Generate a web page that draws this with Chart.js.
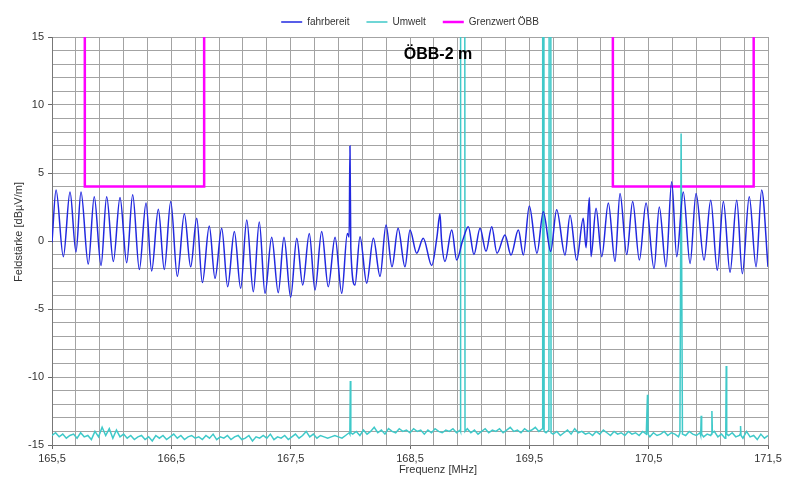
<!DOCTYPE html>
<html>
<head>
<meta charset="utf-8">
<script src="https://cdn.jsdelivr.net/npm/chart.js@4.4.1/dist/chart.umd.min.js"></script>
<style>
  html, body { margin: 0; padding: 0; background: #fff; }
  #chart { display: block; }
</style>
</head>
<body>
<canvas id="chart" width="788" height="483"></canvas>
<script>
// fahrbereit: Messpunkte (Frequenz in MHz, Pegel in dBµV/m)
const fahrFreq = [
  165.500,165.534,165.595,165.651,165.701,165.743,165.804,165.854,165.911,165.958,
  166.014,166.070,166.126,166.176,166.232,166.288,166.335,166.391,166.441,166.495,
  166.550,166.609,166.662,166.713,166.760,166.818,166.866,166.922,166.972,167.028,
  167.081,167.132,167.187,167.237,167.285,167.341,167.396,167.444,167.500,167.551,
  167.601,167.656,167.704,167.760,167.815,167.872,167.928,167.975,167.990,167.997,
  168.004,168.039,168.081,168.137,168.193,168.249,168.299,168.349,168.400,168.458,
  168.500,168.556,168.611,168.682,168.726,168.751,168.764,168.793,168.850,168.891,
  168.940,168.989,169.036,169.087,169.137,169.185,169.229,169.296,169.346,169.408,
  169.450,169.500,169.564,169.617,169.679,169.729,169.799,169.841,169.897,169.952,
  169.975,170.003,170.017,170.059,170.107,170.162,170.218,170.260,170.316,170.366,
  170.422,170.478,170.545,170.589,170.645,170.693,170.735,170.790,170.847,170.897,
  170.964,171.020,171.075,171.126,171.182,171.238,171.285,171.343,171.400,171.447,
  171.500
];
const fahrLevel = [
  -0.1,3.75,-1.15,3.6,-0.8,3.6,-1.7,3.25,-1.8,3.25,
  -1.5,3.2,-1.6,3.4,-2.1,2.8,-2.2,2.33,-2.1,2.9,
  -2.6,2.0,-1.9,1.67,-3.06,1.1,-2.75,0.93,-3.36,0.69,
  -3.48,1.54,-3.73,1.4,-3.85,0.27,-3.8,0.27,-4.14,0.2,
  -3.24,0.56,-3.6,0.69,-3.36,0.27,-3.85,0.56,0.3,6.98,
  -0.5,-3.24,0.32,-3.1,0.2,-2.6,1.18,-1.9,0.93,-1.9,
  0.81,-0.9,0.2,-1.8,0.3,2.0,0.1,-1.5,0.8,-1.4,
  0.0,1.05,-1.0,0.93,-0.76,1.05,-0.9,0.44,-1.03,0.8,
  -1.03,2.57,-0.9,2.15,-0.76,2.3,-1.03,1.9,-1.4,1.67,
  -0.5,3.2,-1.15,2.4,-1.15,2.8,-1.5,3.5,-1.0,2.9,
  -1.4,2.8,-2.03,2.5,-1.9,4.36,-1.15,3.6,-1.65,3.5,
  -1.4,3.0,-2.15,2.9,-2.3,3.0,-2.4,3.25,-1.9,3.75,
  -1.9
];

// Umwelt: Grundrauschen, Sweep ab 165,5 MHz in 0,03-MHz-Schritten
const umweltStart = 165.5;
const umweltStep = 0.03;
const umweltNoise = [
  -14.3,-14.1,-14.4,-14.2,-14.5,-14.3,-14.2,-14.5,-14.1,-14.4,
  -14.3,-14.6,-14.0,-14.4,-13.7,-14.3,-13.8,-14.5,-13.9,-14.4,
  -14.2,-14.5,-14.3,-14.6,-14.4,-14.3,-14.6,-14.4,-14.7,-14.3,
  -14.5,-14.3,-14.6,-14.4,-14.2,-14.5,-14.3,-14.6,-14.4,-14.3,
  -14.5,-14.4,-14.6,-14.3,-14.5,-14.2,-14.6,-14.4,-14.5,-14.3,
  -14.6,-14.4,-14.3,-14.6,-14.5,-14.3,-14.7,-14.4,-14.5,-14.3,
  -14.5,-14.2,-14.6,-14.4,-14.5,-14.3,-14.6,-14.4,-14.2,-14.5,
  -14.3,-14.0,-14.4,-14.2,-14.5,-14.3,-14.4,-14.5,-14.4,-14.3,
  -14.4,-14.5,-14.3,-14.1,-14.2,-14.0,-14.3,-13.9,-14.2,-14.0,
  -13.7,-14.1,-13.9,-14.2,-13.8,-14.0,-14.1,-13.8,-14.0,-13.9,
  -14.1,-13.8,-14.0,-13.9,-14.2,-13.9,-14.1,-13.8,-14.0,-14.1,
  -13.9,-14.0,-13.8,-14.1,-13.9,-14.0,-13.8,-14.1,-13.9,-14.2,
  -14.0,-13.8,-14.1,-13.9,-14.0,-13.8,-14.1,-13.9,-13.7,-14.0,
  -13.9,-14.1,-13.8,-14.0,-13.9,-13.7,-14.0,-13.9,-14.1,-13.9,
  -14.2,-14.0,-14.3,-14.1,-13.9,-14.2,-13.8,-14.1,-14.0,-14.2,
  -14.1,-14.3,-14.0,-14.2,-13.9,-14.1,-14.3,-14.0,-14.2,-14.1,
  -14.3,-14.0,-14.2,-14.1,-14.3,-14.0,-14.2,-14.4,-14.1,-14.3,
  -14.2,-14.0,-14.3,-14.1,-14.2,-14.4,-14.1,-14.3,-14.0,-14.2,
  -14.3,-14.1,-14.4,-14.2,-14.3,-14.0,-14.4,-14.2,-14.5,-14.3,
  -14.1,-14.4,-14.3,-14.5,-14.0,-14.4,-14.3,-14.6,-14.2,-14.5,
  -14.3
];
// Umwelt: einzelne Träger / Spitzen [MHz, dBµV/m]
const umweltSpikes = [
  [[167.996,-14.2],[168.000,-10.3],[168.004,-14.1]],
  [[168.923,-14.0],[168.925,20],[168.959,20],[168.961,-14.0]],
  [[169.610,-13.8],[169.612,20],[169.622,20],[169.624,-14.0]],
  [[169.664,-13.9],[169.666,20],[169.680,20],[169.682,-14.1]],
  [[170.486,-14.2],[170.490,-11.3],[170.494,-14.2]],
  [[170.762,-14.1],[170.772,7.9],[170.783,-14.2]],
  [[170.936,-14.3],[170.940,-12.85],[170.944,-14.2]],
  [[171.026,-14.2],[171.030,-12.5],[171.034,-14.1]],
  [[171.146,-14.3],[171.150,-9.2],[171.154,-14.2]],
  [[171.266,-14.2],[171.270,-13.6],[171.274,-14.3]]
];

// Grenzwert ÖBB (null = Lücke zwischen den beiden Bändern)
const grenzFreq = [165.775,165.775,166.775,166.775,168.5,170.2,170.2,171.38,171.38];
const grenzLevel = [16,4,4,16,null,16,4,4,16];

const xMin = 165.5, xMax = 171.5, xGridStep = 0.2;
const yMin = -15, yMax = 15;

const fahrPoints = fahrFreq.map((f, i) => ({ x: f, y: fahrLevel[i] }));

// Rauschen und Spitzen zusammenführen
let umweltPoints = umweltNoise.map((v, i) => ({ x: +(umweltStart + i * umweltStep).toFixed(3), y: v }));
umweltSpikes.forEach(spike => {
  const lo = spike[0][0], hi = spike[spike.length - 1][0];
  umweltPoints = umweltPoints.filter(p => p.x < lo || p.x > hi);
  spike.forEach(([f, v]) => umweltPoints.push({ x: f, y: v }));
});
umweltPoints.sort((a, b) => a.x - b.x);

const grenzPoints = grenzFreq.map((f, i) => ({ x: f, y: grenzLevel[i] }));

const xGrid = [];
for (let i = 0; i <= Math.round((xMax - xMin) / xGridStep); i++) {
  xGrid.push(+(xMin + i * xGridStep).toFixed(2));
}
const isXLabel = v => Math.abs(((v - xMin) % 1 + 1) % 1) < 1e-6 || Math.abs(((v - xMin) % 1) - 1) < 1e-6;

const FONT = "'Liberation Sans', Arial, sans-serif";
const GRID = '#a3a3a3';

// Titel und Achsenbeschriftungen an fester Stelle
const textPlugin = {
  id: 'texts',
  afterDraw(chart) {
    const ctx = chart.ctx;
    ctx.save();
    ctx.fillStyle = '#000';
    ctx.font = 'bold 16px ' + FONT;
    ctx.textAlign = 'center';
    ctx.textBaseline = 'middle';
    ctx.fillText('ÖBB-2 m', 438, 55);

    ctx.fillStyle = '#333';
    ctx.font = '11px ' + FONT;
    ctx.fillText('Frequenz [MHz]', 438, 470);

    ctx.translate(19, 232);
    ctx.rotate(-Math.PI / 2);
    ctx.fillText('Feldstärke [dBµV/m]', 0, 0);
    ctx.restore();
  }
};

const legendHeight = {
  id: 'legendHeight',
  beforeInit(chart) {
    const fit = chart.legend.fit;
    chart.legend.fit = function () {
      fit.bind(chart.legend)();
      this.height = 37;
    };
  }
};

new Chart(document.getElementById('chart'), {
  type: 'line',
  data: {
    datasets: [
      {
        label: 'fahrbereit',
        data: fahrPoints,
        borderColor: '#2128e0',
        backgroundColor: '#2128e0',
        borderWidth: 1.5,
        pointRadius: 0,
        cubicInterpolationMode: 'monotone'
      },
      {
        label: 'Umwelt',
        data: umweltPoints,
        borderColor: '#3fc9c9',
        backgroundColor: '#3fc9c9',
        borderWidth: 1.5,
        pointRadius: 0,
        tension: 0
      },
      {
        label: 'Grenzwert ÖBB',
        data: grenzPoints,
        borderColor: '#ff00ff',
        backgroundColor: '#ff00ff',
        borderWidth: 2.5,
        pointRadius: 0,
        tension: 0,
        spanGaps: false
      }
    ]
  },
  options: {
    responsive: false,
    devicePixelRatio: 1,
    animation: false,
    parsing: false,
    normalized: true,
    layout: { padding: { left: 0, right: 20, top: 0, bottom: 0 } },
    plugins: {
      legend: {
        position: 'top',
        fullSize: false,
        labels: {
          usePointStyle: true,
          pointStyle: 'line',
          pointStyleWidth: 21,
          boxHeight: 10,
          padding: 17,
          color: '#333',
          font: { family: FONT, size: 10 }
        }
      },
      tooltip: { enabled: false }
    },
    scales: {
      x: {
        type: 'linear',
        min: xMin,
        max: xMax,
        afterBuildTicks: scale => { scale.ticks = xGrid.map(v => ({ value: v })); },
        afterFit: scale => { scale.height = 38; },
        ticks: {
          autoSkip: false,
          maxRotation: 0,
          padding: 3,
          color: '#333',
          font: { family: FONT, size: 11 },
          callback: v => isXLabel(v) ? v.toFixed(1).replace('.', ',') : ''
        },
        grid: {
          color: GRID,
          lineWidth: 1,
          tickLength: 4,
          tickColor: c => (c.tick && isXLabel(c.tick.value)) ? '#666' : 'rgba(0,0,0,0)'
        },
        border: { color: '#777' }
      },
      y: {
        min: yMin,
        max: yMax,
        afterFit: scale => { scale.width = 52; },
        ticks: {
          stepSize: 1,
          autoSkip: false,
          padding: 4,
          color: '#333',
          font: { family: FONT, size: 11 },
          callback: v => v % 5 === 0 ? String(v) : ''
        },
        grid: {
          color: GRID,
          lineWidth: 1,
          tickLength: 4,
          tickColor: c => (c.tick && c.tick.value % 5 === 0) ? '#666' : 'rgba(0,0,0,0)'
        },
        border: { color: '#777' }
      }
    }
  },
  plugins: [legendHeight, textPlugin]
});
</script>
</body>
</html>
